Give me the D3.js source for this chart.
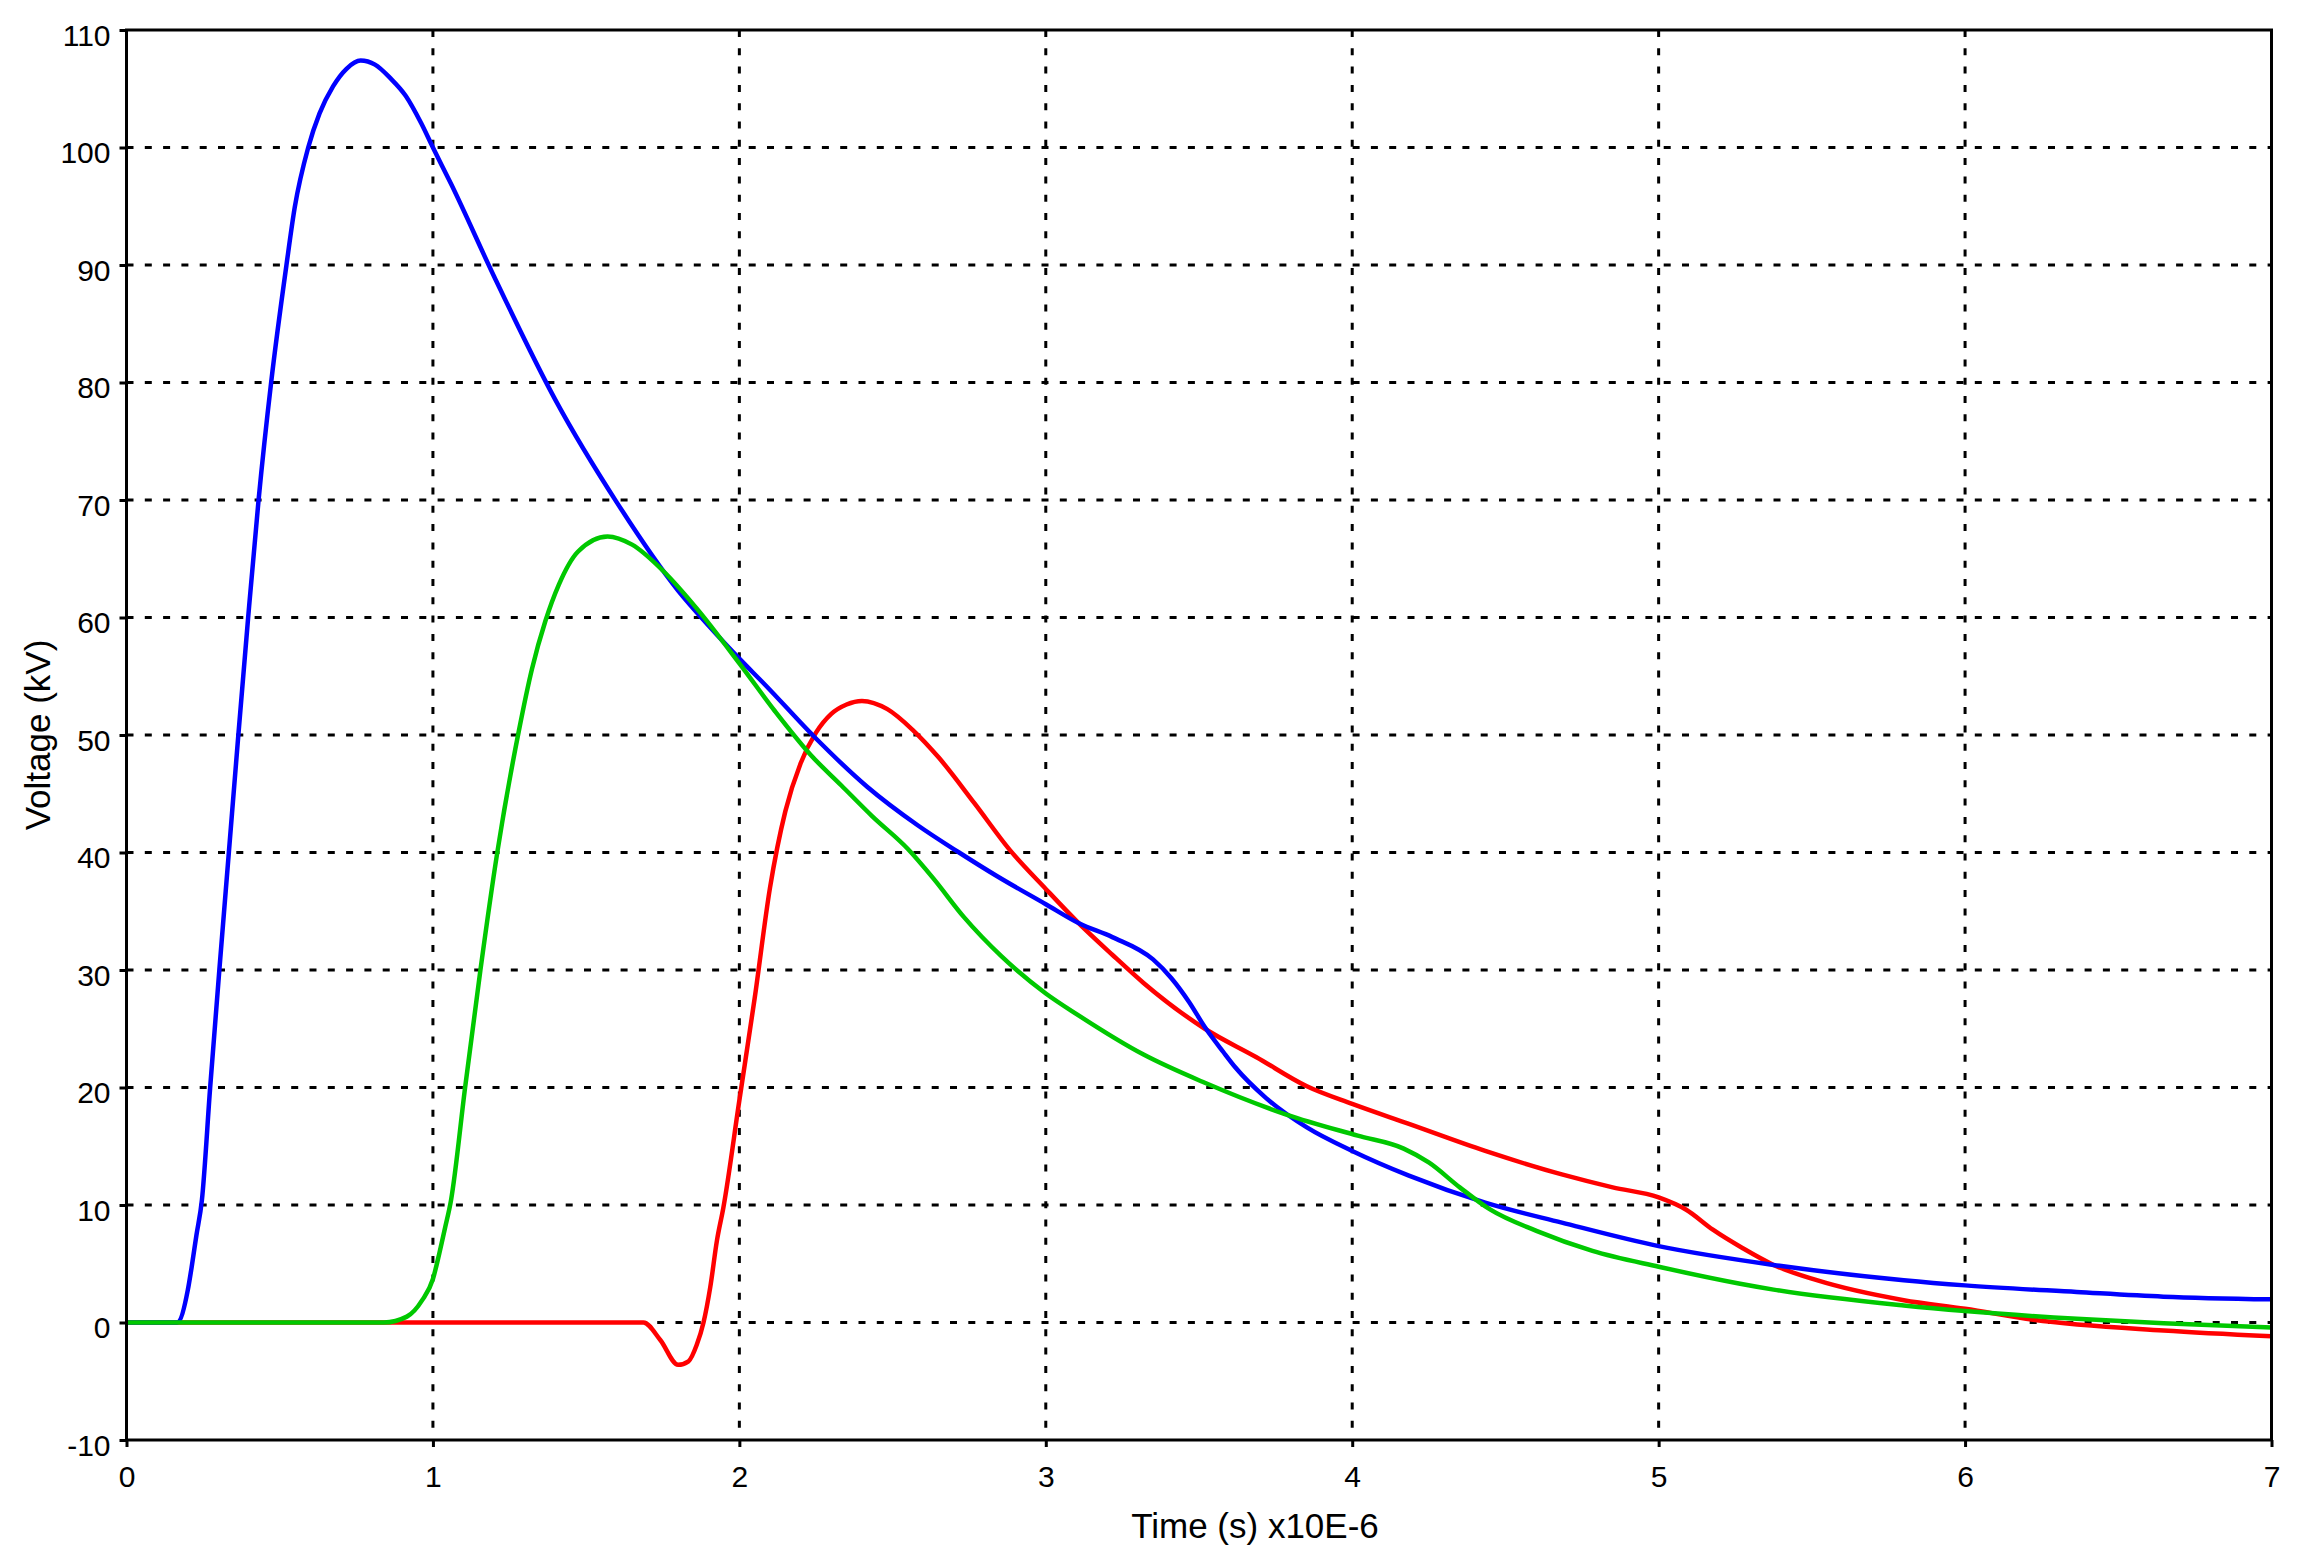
<!DOCTYPE html>
<html>
<head>
<meta charset="utf-8">
<script src="https://cdn.jsdelivr.net/npm/d3@7"></script>
<style>
	body { margin: 0; background: #fff; }
	text { font-family: "Liberation Sans", Arial, sans-serif; fill: #000; }
</style>
</head>
<body>
<svg id="chart" width="2301" height="1563"></svg>
<script>
'use strict';

// tick values
var xTicks = [0, 1, 2, 3, 4, 5, 6, 7];
var yTicks = [-10, 0, 10, 20, 30, 40, 50, 60, 70, 80, 90, 100, 110];

// blue trace (time in us, voltage in kV)
var blueTime = [0, 0.165, 0.2, 0.2125, 0.228, 0.246, 0.273, 0.303, 0.334, 0.365, 0.397, 0.431, 0.472, 0.522, 0.549,
	0.593, 0.63, 0.674, 0.718, 0.764, 0.811, 0.861, 0.911, 0.961, 1.0, 1.061, 1.2, 1.4, 1.6, 1.8, 1.9,
	2.0, 2.083, 2.25, 2.417, 2.583, 2.717, 2.84, 3.0, 3.11, 3.217, 3.35, 3.41, 3.467, 3.52, 3.58, 3.619, 3.719, 3.852,
	4.0, 4.185, 4.434, 4.684, 5.0, 5.375, 5.8, 6.0, 6.364, 6.647, 7.0];
var blueVolt = [0, 0, 2.75, 4.7, 7.4, 10.4, 20, 30, 40, 50, 60, 70, 80, 90, 94.9,
	100, 102.9, 105.2, 106.7, 107.4, 107.05, 105.9, 104.4, 102.1, 100, 96.8, 89, 78.5, 69.8, 62.3, 59.3,
	56.5, 54.3, 49.7, 45.6, 42.3, 40, 38.0, 35.6, 33.95, 32.8, 30.9, 29.3, 27.3, 25.1, 23, 21.7, 19.1, 16.6,
	14.6, 12.5, 10.2, 8.5, 6.5, 4.9, 3.6, 3.16, 2.6, 2.2, 1.97];

// green trace
var greenTime = [0, 0.84, 0.915, 0.965, 1.0, 1.021, 1.04, 1.059, 1.105, 1.155, 1.21, 1.28, 1.323, 1.367, 1.411,
	1.473, 1.57, 1.65, 1.75, 1.86, 2.0, 2.117, 2.233, 2.333, 2.433, 2.55, 2.633, 2.733, 2.854, 3.0, 3.103, 3.319,
	3.519, 3.785, 4.018, 4.168, 4.251, 4.351, 4.451, 4.601, 4.784, 5.0, 5.266, 5.375, 5.8, 6.0, 6.365, 6.648, 7.0];
var greenVolt = [0, 0, 0.5, 1.9, 3.7, 5.9, 8.1, 10.4, 20, 30, 40, 50.3, 55.6, 59.7, 62.8,
	65.6, 66.9, 66.2, 64, 60.8, 56.1, 52.0, 48.3, 45.7, 43.1, 40.3, 37.8, 34.5, 31.2, 28.0, 26.2, 22.8,
	20.4, 17.7, 15.9, 14.8, 13.6, 11.5, 9.6, 7.8, 6.1, 4.75, 3.3, 2.8, 1.45, 0.97, 0.31, -0.06, -0.43];

// red trace
var redTime = [0, 1.687, 1.742, 1.8, 1.834, 1.861, 1.883, 1.905, 1.927, 1.948, 2.0, 2.05, 2.1, 2.15, 2.2, 2.25,
	2.3, 2.35, 2.4, 2.483, 2.567, 2.65, 2.767, 2.883, 3.0, 3.103, 3.217, 3.319, 3.519, 3.686, 3.852, 4.0, 4.185, 4.434,
	4.684, 4.85, 5.0, 5.09, 5.177, 5.276, 5.375, 5.516, 5.8, 6.0, 6.223, 6.648, 7.0];
var redVolt = [0, 0, -1.49, -3.6, -3.3, -1.9, 0, 3.0, 7.0, 9.8, 18.9, 27.6, 37, 43.5, 47.6, 50.2,
	51.8, 52.6, 52.9, 52.2, 50.4, 48.1, 44.2, 40.2, 36.9, 34.1, 31.3, 28.9, 25.0, 22.6, 20.1, 18.6, 16.9, 14.6,
	12.6, 11.5, 10.65, 9.6, 7.9, 6.3, 4.9, 3.6, 1.9, 1.17, 0.23, -0.68, -1.17];

var PLOT_LEFT = 126.5;
var PLOT_RIGHT = 2271.5;
var PLOT_TOP = 30;
var PLOT_BOTTOM = 1440;

var svg = d3.select("#chart");

var x = d3.scaleLinear()
	.domain([0, 7])
	.range([PLOT_LEFT, PLOT_RIGHT]);

var y = d3.scaleLinear()
	.domain([-10, 110])
	.range([PLOT_BOTTOM, PLOT_TOP]);

function zipSeries(times, volts) {
	return times.map(function (t, i) {
		return { t: t, v: volts[i] };
	});
}

// dotted grid
svg.append("g")
	.selectAll("line")
	.data(yTicks.filter(function (d) { return d > -10 && d < 110; }))
	.enter()
	.append("line")
	.attr("x1", PLOT_LEFT)
	.attr("x2", PLOT_RIGHT)
	.attr("y1", function (d) { return y(d); })
	.attr("y2", function (d) { return y(d); })
	.style("stroke", "#000")
	.style("stroke-width", 3)
	.style("stroke-dasharray", "7,11.3");

svg.append("g")
	.selectAll("line")
	.data(xTicks.filter(function (d) { return d > 0 && d < 7; }))
	.enter()
	.append("line")
	.attr("x1", function (d) { return x(d); })
	.attr("x2", function (d) { return x(d); })
	.attr("y1", PLOT_TOP)
	.attr("y2", PLOT_BOTTOM)
	.style("stroke", "#000")
	.style("stroke-width", 3)
	.style("stroke-dasharray", "7,11.3");

// axes
var plainFormat = function (d) { return String(d); };

var yAxis = svg.append("g")
	.attr("transform", "translate(" + PLOT_LEFT + ",0)")
	.call(d3.axisLeft(y).tickValues(yTicks).tickFormat(plainFormat)
		.tickSize(7).tickSizeOuter(0).tickPadding(9));

var xAxis = svg.append("g")
	.attr("transform", "translate(0," + PLOT_BOTTOM + ")")
	.call(d3.axisBottom(x).tickValues(xTicks).tickFormat(plainFormat)
		.tickSize(7).tickSizeOuter(0).tickPadding(19));

[yAxis, xAxis].forEach(function (g) {
	g.select(".domain").remove();
	g.selectAll(".tick line").style("stroke", "#000").style("stroke-width", 3);
	g.selectAll(".tick text")
		.style("font-size", "30px")
		.style("font-family", "'Liberation Sans', Arial, sans-serif")
		.attr("fill", "#000");
});
yAxis.selectAll(".tick text").attr("dy", "0.5em");

// traces
var line = d3.line()
	.x(function (d) { return x(d.t); })
	.y(function (d) { return y(d.v); })
	.curve(d3.curveMonotoneX);

var traces = [
	{ data: zipSeries(redTime, redVolt), color: "#ff0000" },
	{ data: zipSeries(blueTime, blueVolt), color: "#0000ff" },
	{ data: zipSeries(greenTime, greenVolt), color: "#00c800" }
];

svg.append("g")
	.selectAll("path")
	.data(traces)
	.enter()
	.append("path")
	.attr("d", function (d) { return line(d.data); })
	.style("fill", "none")
	.style("stroke", function (d) { return d.color; })
	.style("stroke-width", 4.5)
	.style("stroke-linejoin", "round");

// frame
svg.append("rect")
	.attr("x", PLOT_LEFT)
	.attr("y", PLOT_TOP)
	.attr("width", PLOT_RIGHT - PLOT_LEFT)
	.attr("height", PLOT_BOTTOM - PLOT_TOP)
	.style("fill", "none")
	.style("stroke", "#000")
	.style("stroke-width", 3);

// axis titles
svg.append("text")
	.attr("x", 1255)
	.attr("y", 1538)
	.attr("text-anchor", "middle")
	.style("font-size", "35px")
	.text("Time (s) x10E-6");

svg.append("text")
	.attr("transform", "translate(50," + ((PLOT_TOP + PLOT_BOTTOM) / 2) + ") rotate(-90)")
	.attr("text-anchor", "middle")
	.style("font-size", "35px")
	.text("Voltage (kV)");
</script>
</body>
</html>
